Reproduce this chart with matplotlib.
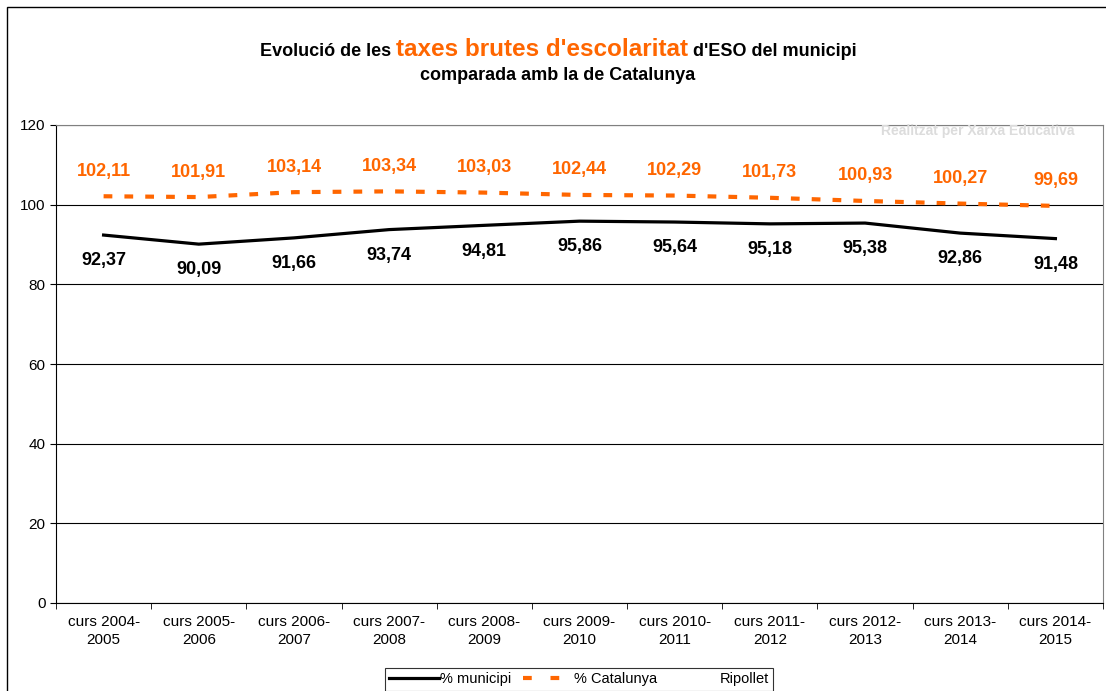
import matplotlib.pyplot as plt
from matplotlib.lines import Line2D
from matplotlib.patches import Rectangle

plt.rcParams['font.family'] = ['Liberation Sans', 'DejaVu Sans']

cursos = ['curs 2004-\n2005', 'curs 2005-\n2006', 'curs 2006-\n2007', 'curs 2007-\n2008',
          'curs 2008-\n2009', 'curs 2009-\n2010', 'curs 2010-\n2011', 'curs 2011-\n2012',
          'curs 2012-\n2013', 'curs 2013-\n2014', 'curs 2014-\n2015']
municipi = [92.37, 90.09, 91.66, 93.74, 94.81, 95.86, 95.64, 95.18, 95.38, 92.86, 91.48]
catalunya = [102.11, 101.91, 103.14, 103.34, 103.03, 102.44, 102.29, 101.73, 100.93, 100.27, 99.69]

orange = '#ff6600'
W, H = 1106, 691
fig = plt.figure(figsize=(W / 100, H / 100), dpi=100)

# outer frame
fig.patches.append(Rectangle((7 / W, -0.1), 1.2, 1.1 - 7 / H, transform=fig.transFigure,
                             fill=False, edgecolor='black', linewidth=1.0))

ax = fig.add_axes([56 / W, 1 - 603 / H, (1103 - 56) / W, (603 - 125) / H])
x = list(range(len(cursos)))

ax.plot(x, municipi, color='black', linewidth=2.3, label='% municipi')
ax.plot(x, catalunya, color=orange, linewidth=3.0, dashes=(2.1, 2.9), label='% Catalunya')

for xi, v in zip(x, municipi):
    ax.annotate(f'{v:.2f}'.replace('.', ','), (xi, v), xytext=(0, -18.5), textcoords='offset points',
                ha='center', va='center', fontsize=13, fontweight='bold', color='black')
for xi, v in zip(x, catalunya):
    ax.annotate(f'{v:.2f}'.replace('.', ','), (xi, v), xytext=(0, 18), textcoords='offset points',
                ha='center', va='center', fontsize=13, fontweight='bold', color=orange)

ax.set_xlim(-0.5, len(cursos) - 0.5)
ax.set_ylim(0, 120)
ax.set_yticks(range(0, 121, 20))
ax.yaxis.grid(True, color='black', linewidth=0.8)
ax.set_axisbelow(True)
ax.set_xticks(x)
ax.set_xticklabels(cursos, fontsize=11, linespacing=1.3)
ax.tick_params(axis='x', length=0, pad=9)
ax.set_xticks([i - 0.5 for i in range(len(cursos) + 1)], minor=True)
ax.tick_params(axis='x', which='minor', length=4, direction='out')
ax.tick_params(axis='y', length=4, labelsize=11)
for s in ['top', 'right']:
    ax.spines[s].set_color('#808080')
ax.spines['left'].set_color('black')
ax.spines['bottom'].set_color('black')

ax.text(978, H - 131, "Realitzat per Xarxa Educativa", transform=None,
        ha='center', va='center', fontsize=10, fontweight='bold', color='#dcdcdc')

# title with mixed styles
fig.canvas.draw()
r = fig.canvas.get_renderer()
y1 = 1 - 56 / H
parts = [('Evolució de les ', 'black', 13), ("taxes brutes d'escolaritat", orange, 17.5),
         (" d'ESO del municipi", 'black', 13)]
texts = [fig.text(0, y1, s, color=c, fontsize=fs, fontweight='bold', va='baseline') for s, c, fs in parts]
widths = [t.get_window_extent(r).width for t in texts]
pos = 558 - sum(widths) / 2
for t, w in zip(texts, widths):
    t.set_x(pos / W)
    pos += w
fig.text(558 / W, 1 - 75 / H, 'comparada amb la de Catalunya', ha='center', va='center',
         fontsize=13, fontweight='bold')

handles = [Line2D([], [], color='black', linewidth=2.3),
           Line2D([], [], color=orange, linewidth=3.0, dashes=(2.1, 4.5)),
           Line2D([], [], color='none')]
leg = fig.legend(handles, ['% municipi', '% Catalunya', 'Ripollet'], loc='upper center',
                 bbox_to_anchor=(579 / W, 1 - 668 / H), ncol=3, fontsize=10.5, frameon=True,
                 fancybox=False, edgecolor='black', handlelength=3.4, handletextpad=0.1,
                 columnspacing=0.8, borderpad=0.3, borderaxespad=0)
leg.get_frame().set_linewidth(0.8)

fig.savefig('out.png', dpi=100)
